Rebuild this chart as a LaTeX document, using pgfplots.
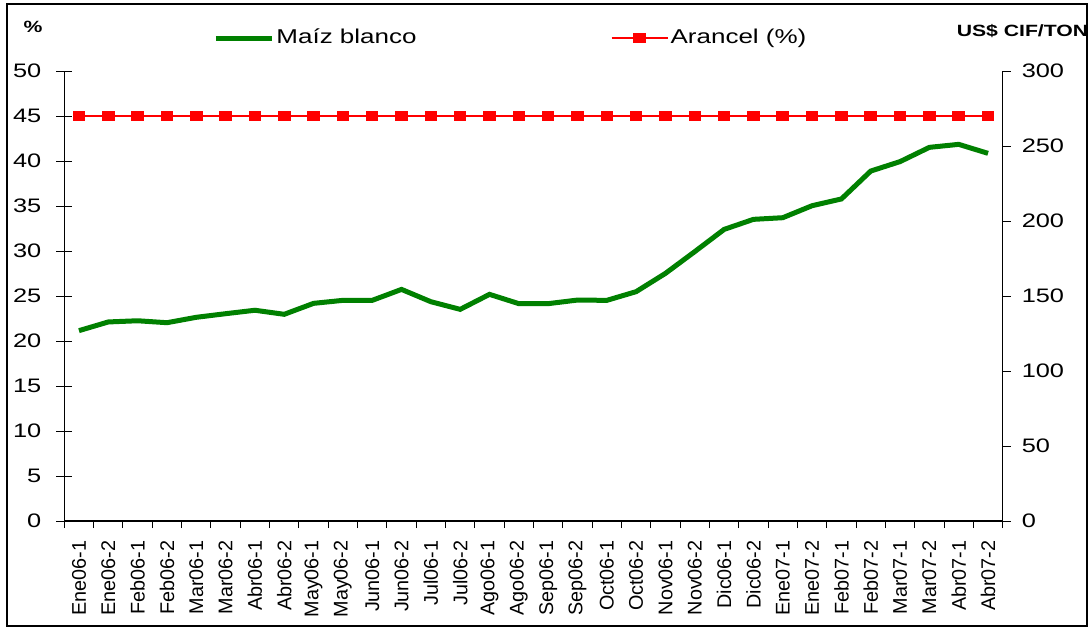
\documentclass[border=0pt]{standalone}
\usepackage{pgfplots}
\pgfplotsset{compat=1.18}
\usepackage{fontspec}
\setmainfont{Liberation Sans}
\usepackage{graphicx}
\newcommand{\hs}[1]{\scalebox{1.3}[1]{#1}}
\definecolor{mgreen}{RGB}{0,128,0}
\begin{document}
\begin{tikzpicture}
\begin{axis}[
  at={(0,0)}, anchor=south west,
  width=469.2pt, height=225pt, scale only axis,
  xmin=-0.5, xmax=31.5, ymin=0, ymax=50,
  axis y line*=left, axis x line*=bottom,
  axis line style={black, line width=0.7pt},
  tick align=outside,
  major tick length=8pt, minor tick length=3.5pt,
  tick style={black, line width=0.5pt},
  every major y tick/.append style={xshift=4pt},
  major x tick style={draw=none},
  xtick={0,...,31},
  minor xtick={-0.5,0.5,...,31.5},
  xticklabels={Ene06-1,Ene06-2,Feb06-1,Feb06-2,Mar06-1,Mar06-2,Abr06-1,Abr06-2,May06-1,May06-2,Jun06-1,Jun06-2,Jul06-1,Jul06-2,Ago06-1,Ago06-2,Sep06-1,Sep06-2,Oct06-1,Oct06-2,Nov06-1,Nov06-2,Dic06-1,Dic06-2,Ene07-1,Ene07-2,Feb07-1,Feb07-2,Mar07-1,Mar07-2,Abr07-1,Abr07-2},
  xticklabel style={rotate=90, anchor=east, font=\fontsize{9.9}{11}\selectfont, inner sep=1pt},
  xticklabel shift=0.5pt,
  ytick={0,5,...,50},
  /pgf/number format/assume math mode=true,
  yticklabel={\hs{\pgfmathprintnumber{\tick}}},
  yticklabel style={font=\fontsize{9.75}{11}\selectfont},
  clip=false,
]
\addplot[red, line width=1pt, mark=square*, mark size=2.2pt, mark options={solid, fill=red, xscale=1.2}]
  coordinates {(0,45)(1,45)(2,45)(3,45)(4,45)(5,45)(6,45)(7,45)(8,45)(9,45)(10,45)(11,45)(12,45)(13,45)(14,45)(15,45)(16,45)(17,45)(18,45)(19,45)(20,45)(21,45)(22,45)(23,45)(24,45)(25,45)(26,45)(27,45)(28,45)(29,45)(30,45)(31,45)};
\end{axis}
\begin{axis}[
  at={(0,0)}, anchor=south west,
  width=469.2pt, height=225pt, scale only axis,
  xmin=-0.5, xmax=31.5, ymin=0, ymax=300,
  axis x line=none, axis y line*=right,
  axis line style={black, line width=0.7pt},
  tick align=outside, major tick length=4pt,
  tick style={black, line width=0.5pt},
  ytick={0,50,...,300},
  /pgf/number format/assume math mode=true,
  yticklabel={\hs{\pgfmathprintnumber{\tick}}},
  yticklabel style={font=\fontsize{9.75}{11}\selectfont, xshift=2pt},
  legend columns=2,
  legend style={draw=none, fill=none, at={(0.1585,1.0733)}, anchor=west,
    inner sep=0pt, font=\fontsize{10}{12}\selectfont,
    nodes={inner sep=1pt},
    /tikz/every even column/.append style={column sep=96pt}},
  legend image code/.code={\draw[mark repeat=2,mark phase=2,#1] plot coordinates {(0pt,0pt) (14pt,0pt) (28pt,0pt)};},
  clip=false,
]
\addplot[mgreen, line width=2.5pt]
  coordinates {(0,126.9)(1,132.7)(2,133.5)(3,132.2)(4,135.8)(5,138.2)(6,140.5)(7,137.8)(8,145.1)(9,147.1)(10,147.1)(11,154.4)(12,146.2)(13,141.1)(14,151.1)(15,144.9)(16,144.9)(17,147.3)(18,147.1)(19,152.9)(20,165.1)(21,179.6)(22,194.4)(23,201.1)(24,202.2)(25,210.2)(26,214.7)(27,233.3)(28,239.6)(29,249.1)(30,251.1)(31,245.1)};
\addlegendentry{\hs{Maíz blanco}}
\addlegendimage{red, line width=1pt, mark=square*, mark size=2.2pt, mark options={solid, fill=red, xscale=1.2}}
\addlegendentry{\hs{Arancel (\%)}}
\end{axis}
\node[font=\bfseries\fontsize{8.15}{10}\selectfont] at (-15.65pt,247pt) {\hs{\%}};
\node[font=\bfseries\fontsize{8.15}{10}\selectfont] at (479.1pt,245.15pt) {\hs{US\$ CIF/TON}};
\draw[line width=0.75pt] (-28.65pt,-52.5pt) rectangle (511.35pt,258.5pt);
\pgfresetboundingbox
\path[use as bounding box] (-32.15pt,-53.5pt) rectangle (513.35pt,260.5pt);
\end{tikzpicture}
\end{document}
